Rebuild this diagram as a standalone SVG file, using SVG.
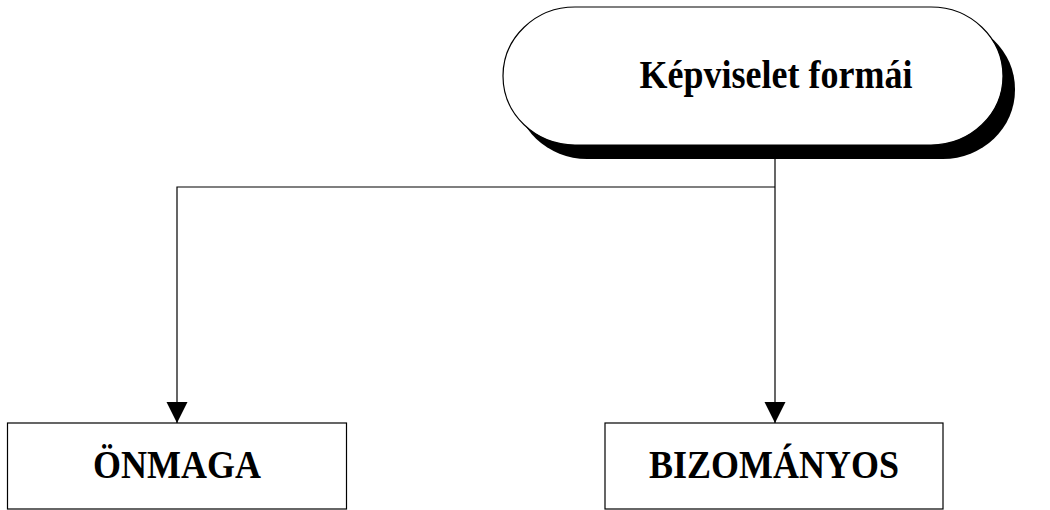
<svg xmlns="http://www.w3.org/2000/svg" width="1050" height="510" viewBox="0 0 1050 510">
<style>
.t{font-family:"Liberation Serif","Times New Roman",serif;font-weight:bold;font-size:36px;fill:#000;text-anchor:middle}
.box{fill:#fff;stroke:#000;stroke-width:1.2}
.ln{fill:none;stroke:#000;stroke-width:1.2}
</style>
<defs>
<marker id="ah" markerWidth="22" markerHeight="22" viewBox="0 0 22 22" refX="21" refY="11" orient="auto" markerUnits="userSpaceOnUse">
<path d="M0,0.5 L21,11 L0,21.5 Z" fill="#000"/>
</marker>
</defs>
<g id="connectors">
<path class="ln" d="M775,145 V423" marker-end="url(#ah)"/>
<path class="ln" d="M775,187 H177 V423" marker-end="url(#ah)"/>
</g>
<g id="node-top">
<rect x="515" y="20" width="500" height="139" rx="72" ry="69" fill="#000"/>
<rect class="box" x="503" y="7" width="500" height="138" rx="72" ry="69"/>
<text class="t" transform="translate(776,88) scale(1,1.12)">Képviselet formái</text>
</g>
<g id="node-onmaga">
<rect class="box" x="7.5" y="423" width="339" height="86"/>
<text class="t" transform="translate(177,478) scale(1,1.12)">ÖNMAGA</text>
</g>
<g id="node-bizomanyos">
<rect class="box" x="605" y="423" width="338" height="86"/>
<text class="t" transform="translate(774,478) scale(1,1.12)">BIZOMÁNYOS</text>
</g>
</svg>
